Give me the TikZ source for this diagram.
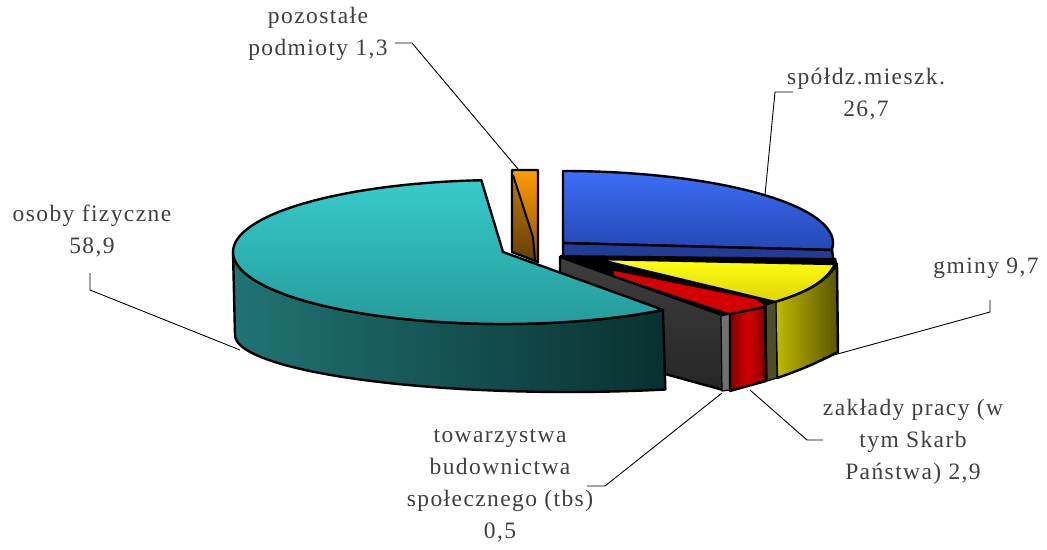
\documentclass[tikz,border=0pt]{standalone}
\usepackage{fontspec}
\setmainfont{Liberation Serif}
\definecolor{tealA}{HTML}{38CACA}
\definecolor{tealB}{HTML}{259C9C}
\definecolor{tealSideA}{HTML}{207474}
\definecolor{tealSideB}{HTML}{0A3030}
\definecolor{blueA}{HTML}{3D6EF7}
\definecolor{blueB}{HTML}{2448B4}
\definecolor{blueBand}{HTML}{213C95}
\definecolor{yelA}{HTML}{FFFF14}
\definecolor{yelB}{HTML}{DCD400}
\definecolor{yelSideA}{HTML}{C2BA00}
\definecolor{yelSideB}{HTML}{5A5400}
\definecolor{oliveS}{HTML}{4E4E26}
\definecolor{redA}{HTML}{D40000}
\definecolor{redB}{HTML}{7E0000}
\definecolor{grayA}{HTML}{3E3E3E}
\definecolor{grayB}{HTML}{262626}
\definecolor{grayL}{HTML}{707070}
\definecolor{orA}{HTML}{FF9C00}
\definecolor{orB}{HTML}{8A5000}
\definecolor{orC}{HTML}{C07A10}
\definecolor{orD}{HTML}{6A4000}
\definecolor{txt}{HTML}{404040}
\newcommand\lblfont{\fontsize{23.5}{32}\selectfont\addfontfeature{LetterSpace=6}}
\begin{document}
\begin{tikzpicture}[x=1pt,y=-1pt,
  face/.style={draw=black, line width=2.4pt, line join=round},
  thinface/.style={draw=black, line width=1.2pt, line join=round},
  lead/.style={draw=black, line width=0.9pt},
  lbl/.style={text=txt, align=center, font=\lblfont, inner sep=0pt}]
\useasboundingbox (0,0) rectangle (1047,549);
\fill[white] (0,0) rectangle (1047,549);

% orange slice (pozostale)
\path[top color=orA, bottom color=orB] (512,170) -- (538,170) -- (538,262) -- (512,252) -- cycle;
\path[top color=orC, bottom color=orD] (512,173) -- (533,237) -- (535,259) -- (512,252) -- cycle;
\draw[face] (512,170) -- (538,170) -- (538,262) -- (512,252) -- cycle;
\draw[black, line width=2pt] (513,175) -- (533,237) -- (535,260);

% blue slice (spoldz.)
\path[face, top color=blueA, bottom color=blueB] (563,243) -- plot[domain=0:1,samples=50] ({563+270*cos(270+95.6*\x)},{243+72*sin(270+95.6*\x)}) -- cycle;
\path[face, fill=blueBand] (563,243) -- (832,250) -- (834,264) -- (563,262) -- cycle;

% black gap underlay
\fill[black] (560,255) -- (836,258) -- (838,266) -- (766,306) -- (723,317) -- (560,264) -- cycle;

% yellow slice (gminy)
\path[face, top color=yelA, bottom color=yelB] (596,259) -- (835,264) .. controls (826,283) and (802,294) .. (775,302) -- cycle;
\path[face, left color=yelSideA, right color=yelSideB] (775,302) .. controls (802,294) and (826,283) .. (837,264) -- (838,352) .. controls (815,364) and (795,372) .. (777,378) -- cycle;
\path[thinface, fill=oliveS] (766,305) -- (776,302) -- (777,378) -- (767,381) -- cycle;

% red slice top
\path[thinface, fill=redA] (613,270) -- (757,299) -- (766,306) -- (730,314) -- (613,276) -- cycle;

% gray face (tbs)
\path[face, top color=grayA, bottom color=grayB] (560,257) -- (722,315) -- (723,390) -- (560,345) -- cycle;
\path[thinface, fill=grayL] (721,316) -- (730,314) -- (730,390) -- (722,391) -- cycle;

% red side
\path[face, left color=redB, right color=redB, middle color=redA] (730,314) -- (765,307) -- (766,381) -- (730,391) -- cycle;

% teal slice (osoby fizyczne)
\path[face, left color=tealSideA, right color=tealSideB]
  plot[domain=0:1,samples=60] ({503+270*cos(180-126.4*\x)},{252+72*sin(180-126.4*\x)})
  -- plot[domain=0:1,samples=60] ({568+333*cos(73+107*\x)},{335+57*sin(73+107*\x)}) -- cycle;
\path[face, top color=tealA, bottom color=tealB]
  plot[domain=0:1,samples=90] ({503+270*cos(53.6+211.9*\x)},{252+72*sin(53.6+211.9*\x)})
  -- (503,252) -- cycle;

% labels
\node[lbl] (lpoz) at (318,34) {pozostałe\\podmioty 1,3};
\node[lbl] (lspo) at (866,94) {spółdz.mieszk.\\26,7};
\node[lbl] (loso) at (92,231) {osoby fizyczne\\58,9};
\node[lbl] (lgmi) at (986,268) {gminy 9,7};
\node[lbl] (lzak) at (913,442) {zakłady pracy (w\\tym Skarb\\Państwa) 2,9};
\node[lbl] (ltbs) at (500,486) {towarzystwa\\budownictwa\\społecznego (tbs)\\0,5};

% leader lines
\coordinate (a1) at (395,43); \coordinate (a2) at (412,43); \coordinate (a3) at (518,169);
\coordinate (b1) at (793,92); \coordinate (b2) at (775,92); \coordinate (b3) at (765,195);
\coordinate (c1) at (90,273); \coordinate (c2) at (90,290); \coordinate (c3) at (240,350);
\coordinate (d1) at (990,300); \coordinate (d2) at (990,312); \coordinate (d3) at (823,358);
\coordinate (e1) at (823,440); \coordinate (e2) at (807,440); \coordinate (e3) at (750,390);
\coordinate (f1) at (587,486); \coordinate (f2) at (605,486); \coordinate (f3) at (722,393);
\draw[lead] (a1) -- (a2) -- (a3);
\draw[lead] (b1) -- (b2) -- (b3);
\draw[lead] (c1) -- (c2) -- (c3);
\draw[lead] (d1) -- (d2) -- (d3);
\draw[lead] (e1) -- (e2) -- (e3);
\draw[lead] (f1) -- (f2) -- (f3);
\end{tikzpicture}
\end{document}
